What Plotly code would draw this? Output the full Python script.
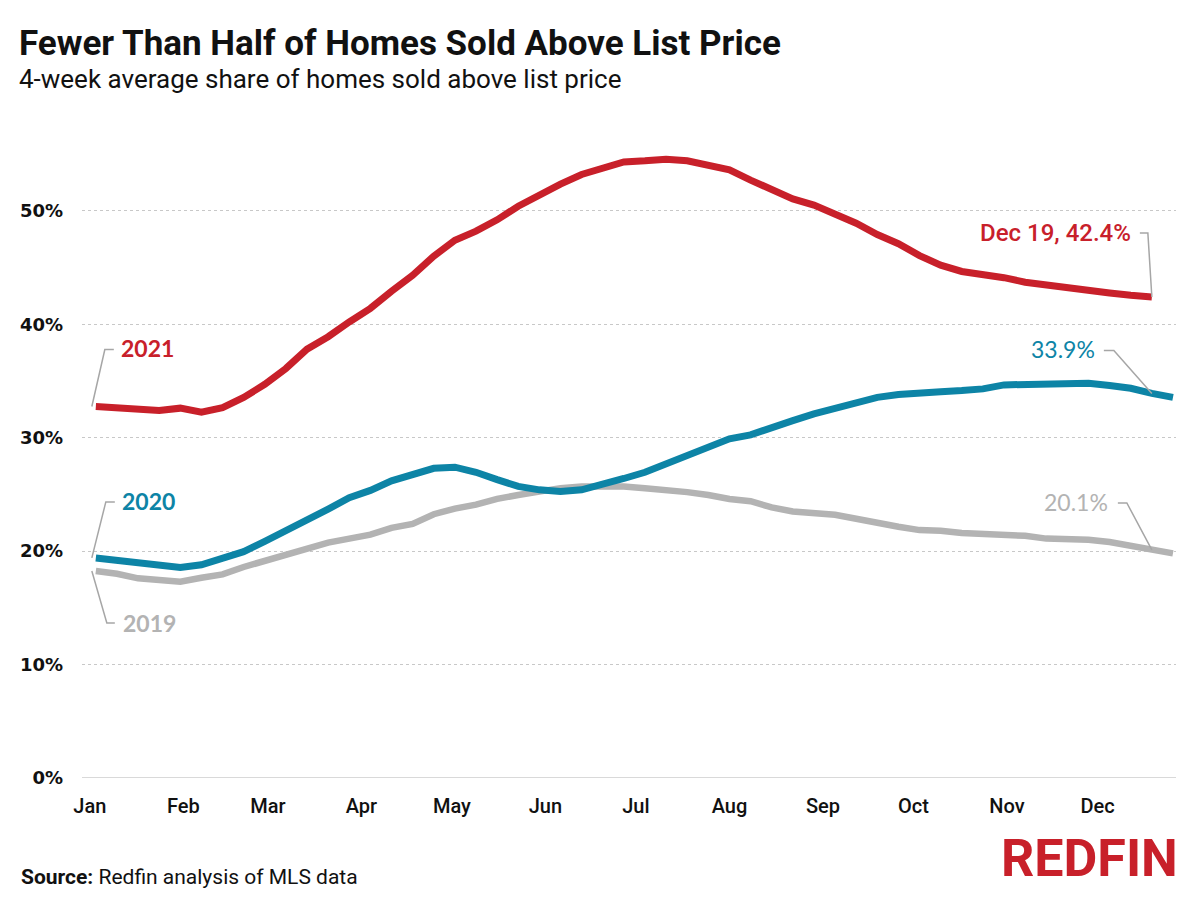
import pandas as pd
import plotly.graph_objects as go

# ---- data (weekly, 4-week average share of homes sold above list price, %) ----
months = ["Jan", "Feb", "Mar", "Apr", "May", "Jun", "Jul", "Aug", "Sep", "Oct", "Nov", "Dec"]
month_starts = pd.date_range("2021-01-01", periods=12, freq="MS")

dates_2021 = pd.date_range("2021-01-03", periods=51, freq="7D")
dates_prev = pd.date_range("2021-01-03", periods=52, freq="7D")  # 2019/2020 plotted on same calendar

y2021 = [32.75, 32.6, 32.5, 32.4, 32.6, 32.25, 32.65, 33.55, 34.7, 36.1,
         37.8, 38.9, 40.2, 41.4, 42.9, 44.3, 46.0, 47.4, 48.2, 49.2,
         50.4, 51.4, 52.35, 53.2, 53.75, 54.3, 54.4, 54.55, 54.4, 54.0,
         53.6, 52.7, 51.9, 51.05, 50.5, 49.7, 48.9, 47.9, 47.1, 46.05,
         45.2, 44.65, 44.4, 44.1, 43.7, 43.45, 43.1, 42.9, 42.75, 42.55,
         42.4]
y2020 = [19.4, 19.15, 19.0, 18.65, 18.55, 18.8, 19.3, 19.95, 20.85, 21.75,
         22.65, 23.7, 24.7, 25.35, 26.2, 26.7, 27.3, 27.4, 26.95, 26.3,
         25.7, 25.4, 25.25, 25.4, 25.85, 26.4, 26.95, 27.7, 28.4, 29.15,
         29.9, 30.25, 30.95, 31.5, 32.1, 32.6, 33.2, 33.55, 33.8, 34.0,
         34.05, 34.15, 34.3, 34.65, 34.7, 34.75, 34.65, 34.8, 34.6, 34.35,
         33.9, 33.55]
y2019 = [18.25, 18.0, 17.6, 17.4, 17.3, 17.65, 17.95, 18.6, 19.15, 19.6,
         20.2, 20.75, 21.1, 21.45, 22.05, 22.4, 23.25, 23.75, 24.1, 24.6,
         24.95, 25.3, 25.55, 25.7, 25.75, 25.7, 25.55, 25.4, 25.2, 24.95,
         24.6, 24.4, 23.85, 23.5, 23.35, 23.2, 22.85, 22.45, 22.15, 21.85,
         21.8, 21.6, 21.5, 21.5, 21.35, 21.1, 21.1, 21.0, 20.8, 20.5,
         20.1, 19.8]

y_ticks = [0, 10, 20, 30, 40, 50]
y_ticktext = ["0%", "10%", "20%", "30%", "40%", "50%"]

RED = "#c8202a"
TEAL = "#0d84a6"
GRAY = "#b3b3b3"
LEADER = "#a6a6a6"
COND = "Roboto, sans-serif"
LABEL_FONT = "Lato, sans-serif"

fig = go.Figure()
fig.add_trace(go.Scatter(x=dates_prev, y=y2019, mode="lines", name="2019",
                         line=dict(color=GRAY, width=6.5), hoverinfo="skip"))
fig.add_trace(go.Scatter(x=dates_prev, y=y2020, mode="lines", name="2020",
                         line=dict(color=TEAL, width=7), hoverinfo="skip"))
fig.add_trace(go.Scatter(x=dates_2021, y=y2021, mode="lines", name="2021",
                         line=dict(color=RED, width=7), hoverinfo="skip"))

# baseline at 0%
fig.add_shape(type="line", xref="paper", yref="y", x0=0, x1=1, y0=0, y1=0,
              line=dict(color="#d9d9d9", width=2), layer="below")

# ---- labels + elbow leader lines ----
def leader(xa, ya, path):
    fig.add_shape(type="path", xref="x", yref="y", xsizemode="pixel", ysizemode="pixel",
                  xanchor=xa, yanchor=ya, path=path,
                  line=dict(color=LEADER, width=1.5))

def label(xa, ya, text, color, xanchor, xshift, yshift, family=LABEL_FONT, size=23, weight="normal"):
    fig.add_annotation(x=xa, y=ya, xref="x", yref="y", text=text, showarrow=False,
                       xanchor=xanchor, yanchor="middle", xshift=xshift, yshift=yshift,
                       font=dict(family=family, size=size, color=color, weight=weight))

d0 = dates_prev[0]
leader(dates_2021[0], y2021[0], "M-4,0 L9,57 L18,57")
label(dates_2021[0], y2021[0], "2021", RED, "left", 23, 58, weight="bold")
leader(d0, y2020[0], "M-4,0 L10,56 L19,56")
label(d0, y2020[0], "2020", TEAL, "left", 24, 57, weight="bold")
leader(d0, y2019[0], "M-4,0 L11,-52 L19,-52")
label(d0, y2019[0], "2019", GRAY, "left", 25, -52, weight="bold")

dl = dates_2021[-1]
leader(dl, y2021[-1], "M0,0 L-4,64 L-12,64")
label(dl, y2021[-1], "Dec 19, 42.4%", RED, "right", -19, 64, family="Roboto, sans-serif", size=24, weight=500)
leader(dl, y2020[50], "M0,0 L-38,43 L-48,43")
label(dl, y2020[50], "33.9%", TEAL, "right", -55, 44, size=23)
leader(dl, y2019[50], "M0,0 L-25,47 L-34,47")
label(dl, y2019[50], "20.1%", GRAY, "right", -42, 48, size=23)

# ---- titles / footer (positions given in page pixels, converted to paper coords) ----
def px_x(px):
    return (px - 80) / 1096

def px_y(py):
    return (778 - py) / 658

fig.add_annotation(xref="paper", yref="paper", x=px_x(15), y=px_y(44), xanchor="left", yanchor="middle",
                   text="<b>Fewer Than Half of Homes Sold Above List Price</b>", showarrow=False,
                   font=dict(family=COND, size=35, color="#111111"))
fig.add_annotation(xref="paper", yref="paper", x=px_x(15), y=px_y(79), xanchor="left", yanchor="middle",
                   text="4-week average share of homes sold above list price", showarrow=False,
                   font=dict(family=COND, size=26, color="#111111"))
fig.add_annotation(xref="paper", yref="paper", x=px_x(17), y=px_y(877), xanchor="left", yanchor="middle",
                   text="<b>Source:</b> Redfin analysis of MLS data", showarrow=False,
                   font=dict(family=COND, size=21, color="#111111"))
fig.add_annotation(xref="paper", yref="paper", x=px_x(1179), y=px_y(890), xanchor="right", yanchor="bottom",
                   text="<b>REDFIN</b>", showarrow=False, borderpad=0,
                   font=dict(family=COND, size=52, color=RED))

# page body has an 8px margin, so the figure is sized 16px smaller than the window
fig.update_layout(
    width=1184, height=884,
    margin=dict(l=72, r=16, t=112, b=114),
    paper_bgcolor="white", plot_bgcolor="white",
    showlegend=False,
    xaxis=dict(
        type="date",
        range=["2020-12-29 10:00", "2021-12-27"],
        tickvals=month_starts, ticktext=months,
        showgrid=False, zeroline=False, showline=False, ticks="",
        tickfont=dict(family=COND, size=20, color="#111111", weight=500),
        ticklabelstandoff=14,
    ),
    yaxis=dict(
        range=[0, 58],
        tickvals=y_ticks, ticktext=y_ticktext,
        showgrid=True, gridcolor="#c8c8c8", griddash="dot", gridwidth=1,
        zeroline=False, showline=False, ticks="",
        tickfont=dict(family="DejaVu Sans", size=18, color="#111111", weight="bold"),
        ticklabelstandoff=18,
    ),
)

fig.write_html("out.html")
